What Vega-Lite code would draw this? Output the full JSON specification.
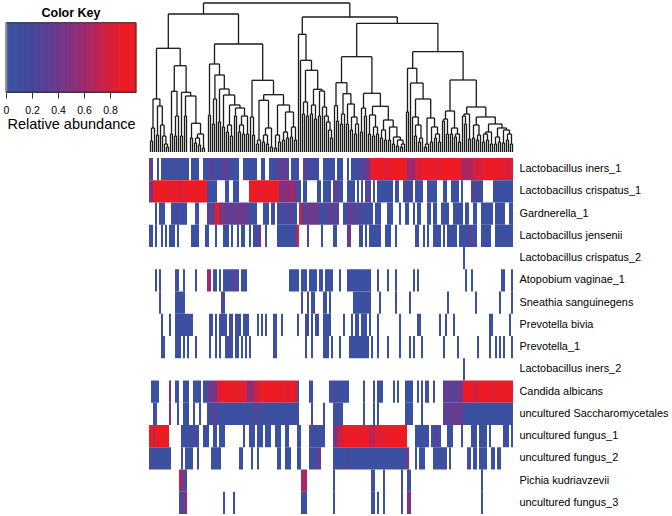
{"$schema":"https://vega.github.io/schema/vega-lite/v6.json","background":"white","padding":{"left":3,"top":2,"right":0,"bottom":0},"bounds":"flush","spacing":13,"config":{"font":"Liberation Sans","view":{"stroke":null},"concat":{"spacing":13}},
"datasets":{
"taxa":[{"r":0,"taxon":"Lactobacillus iners_1"},{"r":1,"taxon":"Lactobacillus crispatus_1"},{"r":2,"taxon":"Gardnerella_1"},{"r":3,"taxon":"Lactobacillus jensenii"},{"r":4,"taxon":"Lactobacillus crispatus_2"},{"r":5,"taxon":"Atopobium vaginae_1"},{"r":6,"taxon":"Sneathia sanguinegens"},{"r":7,"taxon":"Prevotella bivia"},{"r":8,"taxon":"Prevotella_1"},{"r":9,"taxon":"Lactobacillus iners_2"},{"r":10,"taxon":"Candida albicans"},{"r":11,"taxon":"uncultured Saccharomycetales"},{"r":12,"taxon":"uncultured fungus_1"},{"r":13,"taxon":"uncultured fungus_2"},{"r":14,"taxon":"Pichia kudriavzevii"},{"r":15,"taxon":"uncultured fungus_3"}],
"key":[{"a":0.01,"b":0.025,"v":0.02},{"a":0.025,"b":0.05,"v":0.04},{"a":0.05,"b":0.075,"v":0.06},{"a":0.075,"b":0.1,"v":0.09},{"a":0.1,"b":0.125,"v":0.11},{"a":0.125,"b":0.15,"v":0.14},{"a":0.15,"b":0.175,"v":0.16},{"a":0.175,"b":0.2,"v":0.19},{"a":0.2,"b":0.225,"v":0.21},{"a":0.225,"b":0.25,"v":0.24},{"a":0.25,"b":0.275,"v":0.26},{"a":0.275,"b":0.3,"v":0.29},{"a":0.3,"b":0.325,"v":0.31},{"a":0.325,"b":0.35,"v":0.34},{"a":0.35,"b":0.375,"v":0.36},{"a":0.375,"b":0.4,"v":0.39},{"a":0.4,"b":0.425,"v":0.41},{"a":0.425,"b":0.45,"v":0.44},{"a":0.45,"b":0.475,"v":0.46},{"a":0.475,"b":0.5,"v":0.49},{"a":0.5,"b":0.525,"v":0.51},{"a":0.525,"b":0.55,"v":0.54},{"a":0.55,"b":0.575,"v":0.56},{"a":0.575,"b":0.6,"v":0.59},{"a":0.6,"b":0.625,"v":0.61},{"a":0.625,"b":0.65,"v":0.64},{"a":0.65,"b":0.675,"v":0.66},{"a":0.675,"b":0.7,"v":0.69},{"a":0.7,"b":0.725,"v":0.71},{"a":0.725,"b":0.75,"v":0.74},{"a":0.75,"b":0.775,"v":0.76},{"a":0.775,"b":0.8,"v":0.79},{"a":0.8,"b":0.825,"v":0.81},{"a":0.825,"b":0.85,"v":0.84},{"a":0.85,"b":0.875,"v":0.86},{"a":0.875,"b":0.9,"v":0.89},{"a":0.9,"b":0.925,"v":0.91},{"a":0.925,"b":0.95,"v":0.94},{"a":0.95,"b":0.975,"v":0.96},{"a":0.975,"b":1,"v":0.99}],
"tree":[
{"l":0.5,"r":1.5,"h":11,"a":0,"b":0},{"l":1,"r":2.5,"h":24,"a":11,"b":0},{"l":3.5,"r":4.5,"h":17,"a":0,"b":0},{"l":8.5,"r":9.5,"h":5,"a":0,"b":0},{"l":7.5,"r":9,"h":8,"a":0,"b":5},{"l":6.5,"r":8.2,"h":16,"a":0,"b":8},{"l":5.5,"r":7.3,"h":27,"a":0,"b":16},{"l":4,"r":6.4,"h":46,"a":17,"b":27},{"l":1.75,"r":5.2,"h":53,"a":24,"b":46},
{"l":10.5,"r":11.5,"h":18,"a":0,"b":0},{"l":12.5,"r":13.5,"h":16,"a":0,"b":0},{"l":13,"r":14.5,"h":36,"a":16,"b":0},{"l":11,"r":13.75,"h":60.7,"a":18,"b":36},{"l":15.5,"r":16.5,"h":16,"a":0,"b":0},{"l":17.5,"r":18.5,"h":36,"a":0,"b":0},{"l":20.5,"r":21.5,"h":14,"a":0,"b":0},{"l":22.5,"r":23.5,"h":9,"a":0,"b":0},{"l":24.5,"r":25.5,"h":7,"a":0,"b":0},{"l":23,"r":25,"h":14,"a":9,"b":7},{"l":26.5,"r":27.5,"h":4,"a":0,"b":0},{"l":24,"r":27,"h":18,"a":14,"b":4},{"l":21,"r":25.5,"h":28.7,"a":14,"b":18},{"l":18,"r":23.2,"h":56,"a":36,"b":28.7},{"l":16,"r":20.6,"h":59.7,"a":16,"b":56},{"l":12.4,"r":18.3,"h":86.3,"a":60.7,"b":59.7},{"l":3.5,"r":15.35,"h":103.7,"a":53,"b":86.3},
{"l":29.5,"r":30.5,"h":36.7,"a":0,"b":0},{"l":31.5,"r":32.5,"h":28,"a":0,"b":0},{"l":32,"r":33.5,"h":53,"a":28,"b":0},{"l":34.5,"r":35.5,"h":30,"a":0,"b":0},{"l":36.5,"r":37.5,"h":25,"a":0,"b":0},{"l":38.5,"r":39.5,"h":20,"a":0,"b":0},{"l":40.5,"r":41.5,"h":16,"a":0,"b":0},{"l":39,"r":41,"h":27,"a":20,"b":16},{"l":42.5,"r":43.5,"h":36,"a":0,"b":0},{"l":44.5,"r":45.5,"h":20,"a":0,"b":0},{"l":46.5,"r":47.5,"h":18,"a":0,"b":0},{"l":48.5,"r":49.5,"h":18,"a":0,"b":0},{"l":45,"r":47,"h":27,"a":20,"b":18},{"l":46,"r":49,"h":36,"a":27,"b":18},{"l":43,"r":47.5,"h":44,"a":36,"b":36},{"l":40,"r":45.25,"h":47,"a":27,"b":44},{"l":37,"r":42.6,"h":57,"a":25,"b":47},{"l":35,"r":39.8,"h":63,"a":30,"b":57},{"l":32.7,"r":37.4,"h":77,"a":53,"b":63},{"l":30,"r":35,"h":88,"a":36.7,"b":77},
{"l":51.5,"r":52.5,"h":17,"a":0,"b":0},{"l":50.5,"r":52,"h":35,"a":0,"b":17},{"l":53.5,"r":54.5,"h":8,"a":0,"b":0},{"l":54,"r":55.5,"h":12,"a":8,"b":0},{"l":56.5,"r":57.5,"h":10,"a":0,"b":0},{"l":58.5,"r":59.5,"h":8,"a":0,"b":0},{"l":57,"r":59,"h":17,"a":10,"b":8},{"l":60.5,"r":61.5,"h":5,"a":0,"b":0},{"l":58,"r":61,"h":24,"a":17,"b":5},{"l":54.75,"r":59.5,"h":51.7,"a":12,"b":24},{"l":62.5,"r":63.5,"h":4,"a":0,"b":0},{"l":64.5,"r":65.5,"h":10,"a":0,"b":0},{"l":63,"r":65,"h":17,"a":4,"b":10},{"l":66.5,"r":67.5,"h":12,"a":0,"b":0},{"l":68.5,"r":69.5,"h":14,"a":0,"b":0},{"l":67,"r":69,"h":20,"a":12,"b":14},{"l":70.5,"r":71.5,"h":15,"a":0,"b":0},{"l":72.5,"r":73.5,"h":12,"a":0,"b":0},{"l":71,"r":73,"h":25,"a":15,"b":12},{"l":68,"r":72,"h":40,"a":20,"b":25},{"l":64,"r":70,"h":47,"a":17,"b":40},{"l":57.1,"r":67,"h":57.3,"a":51.7,"b":47},{"l":51.25,"r":62,"h":71.7,"a":35,"b":57.3},{"l":32.5,"r":56.6,"h":108,"a":88,"b":71.7},{"l":9.4,"r":44.5,"h":138,"a":103.7,"b":108},
{"l":76.5,"r":77.5,"h":38,"a":0,"b":0},{"l":78.5,"r":79.5,"h":36,"a":0,"b":0},{"l":77,"r":79,"h":50,"a":38,"b":36},{"l":80.5,"r":81.5,"h":38,"a":0,"b":0},{"l":82.5,"r":83.5,"h":33,"a":0,"b":0},{"l":81,"r":83,"h":47,"a":38,"b":33},{"l":84.5,"r":85.5,"h":36,"a":0,"b":0},{"l":90.5,"r":91.5,"h":14,"a":0,"b":0},{"l":89.5,"r":91,"h":22,"a":0,"b":14},{"l":88.5,"r":90.25,"h":30,"a":0,"b":22},{"l":87.5,"r":89.4,"h":36,"a":0,"b":30},{"l":86.5,"r":88.5,"h":45,"a":0,"b":36},{"l":85,"r":87.5,"h":61,"a":36,"b":45},{"l":82,"r":86.25,"h":62.7,"a":47,"b":61},{"l":78,"r":84.1,"h":81.7,"a":50,"b":62.7},{"l":75.5,"r":81,"h":91.7,"a":0,"b":81.7},{"l":74.5,"r":78.25,"h":117.7,"a":0,"b":91.7},
{"l":93.5,"r":94.5,"h":31,"a":0,"b":0},{"l":92.5,"r":94,"h":46.3,"a":0,"b":31},{"l":95.5,"r":96.5,"h":28,"a":0,"b":0},{"l":96,"r":97.5,"h":38,"a":28,"b":0},{"l":98.5,"r":99.5,"h":28,"a":0,"b":0},{"l":100.5,"r":101.5,"h":22,"a":0,"b":0},{"l":102.5,"r":103.5,"h":18,"a":0,"b":0},{"l":103,"r":104.5,"h":28,"a":18,"b":0},{"l":101,"r":103.75,"h":35,"a":22,"b":28},{"l":99,"r":102.4,"h":48,"a":28,"b":35},{"l":96.75,"r":100.7,"h":58.3,"a":38,"b":48},{"l":93.25,"r":98.7,"h":69.3,"a":46.3,"b":58.3},
{"l":105.5,"r":106.5,"h":20,"a":0,"b":0},{"l":107.5,"r":108.5,"h":36,"a":0,"b":0},{"l":106,"r":108,"h":44,"a":20,"b":36},{"l":109.5,"r":110.5,"h":18,"a":0,"b":0},{"l":111.5,"r":112.5,"h":16,"a":0,"b":0},{"l":113.5,"r":114.5,"h":18,"a":0,"b":0},{"l":112,"r":114,"h":25,"a":16,"b":18},{"l":110,"r":113,"h":37,"a":18,"b":25},{"l":115.5,"r":116.5,"h":14,"a":0,"b":0},{"l":117.5,"r":118.5,"h":12,"a":0,"b":0},{"l":116,"r":118,"h":22,"a":14,"b":12},{"l":119.5,"r":120.5,"h":12,"a":0,"b":0},{"l":121.5,"r":122.5,"h":8,"a":0,"b":0},{"l":123.5,"r":124.5,"h":6,"a":0,"b":0},{"l":125.5,"r":126.5,"h":5,"a":0,"b":0},{"l":126,"r":127.5,"h":8,"a":5,"b":0},{"l":124,"r":126.75,"h":12,"a":6,"b":8},{"l":122,"r":125.4,"h":15,"a":8,"b":12},{"l":120,"r":123.7,"h":25,"a":12,"b":15},{"l":117,"r":121.85,"h":32,"a":22,"b":25},{"l":111.5,"r":119.4,"h":45.7,"a":37,"b":32},{"l":107,"r":115.45,"h":58.7,"a":44,"b":45.7},{"l":96,"r":111.2,"h":95.3,"a":69.3,"b":58.7},
{"l":128.5,"r":129.5,"h":40,"a":0,"b":0},{"l":132.5,"r":133.5,"h":16,"a":0,"b":0},{"l":134.5,"r":135.5,"h":10,"a":0,"b":0},{"l":135,"r":136.5,"h":14,"a":10,"b":0},{"l":133,"r":135.75,"h":27,"a":16,"b":14},{"l":131.5,"r":134.4,"h":35,"a":0,"b":27},{"l":137.5,"r":138.5,"h":5,"a":0,"b":0},{"l":138,"r":139.5,"h":8,"a":5,"b":0},{"l":140.5,"r":141.5,"h":10,"a":0,"b":0},{"l":142.5,"r":143.5,"h":14,"a":0,"b":0},{"l":144.5,"r":145.5,"h":10,"a":0,"b":0},{"l":143,"r":145,"h":18,"a":14,"b":10},{"l":141,"r":144,"h":25,"a":10,"b":18},{"l":138.75,"r":142.5,"h":34,"a":8,"b":25},{"l":133,"r":140.6,"h":53,"a":35,"b":34},{"l":130.5,"r":136.8,"h":69,"a":0,"b":53},{"l":129,"r":133.65,"h":83.7,"a":40,"b":69},
{"l":146.5,"r":147.5,"h":31,"a":0,"b":0},{"l":148.5,"r":149.5,"h":18,"a":0,"b":0},{"l":147,"r":149,"h":33,"a":31,"b":18},{"l":150.5,"r":151.5,"h":18,"a":0,"b":0},{"l":152.5,"r":153.5,"h":15,"a":0,"b":0},{"l":154.5,"r":155.5,"h":10,"a":0,"b":0},{"l":153,"r":155,"h":18,"a":15,"b":10},{"l":151,"r":154,"h":24,"a":18,"b":18},{"l":148,"r":152.5,"h":41,"a":33,"b":24},{"l":157.5,"r":158.5,"h":28,"a":0,"b":0},{"l":156.5,"r":158,"h":36,"a":0,"b":28},{"l":159.5,"r":160.5,"h":13,"a":0,"b":0},{"l":157.25,"r":160,"h":38,"a":36,"b":13},{"l":161.5,"r":162.5,"h":14,"a":0,"b":0},{"l":163.5,"r":164.5,"h":12,"a":0,"b":0},{"l":164,"r":165.5,"h":17,"a":12,"b":0},{"l":162,"r":164.75,"h":27,"a":14,"b":17},{"l":166.5,"r":167.5,"h":10,"a":0,"b":0},{"l":168.5,"r":169.5,"h":12,"a":0,"b":0},{"l":167,"r":169,"h":18,"a":10,"b":12},{"l":170.5,"r":171.5,"h":8,"a":0,"b":0},{"l":168,"r":171,"h":20,"a":18,"b":8},{"l":172.5,"r":173.5,"h":8,"a":0,"b":0},{"l":174.5,"r":175.5,"h":10,"a":0,"b":0},{"l":173,"r":175,"h":15,"a":8,"b":10},{"l":176.5,"r":177.5,"h":9,"a":0,"b":0},{"l":178.5,"r":179.5,"h":12,"a":0,"b":0},{"l":180.5,"r":181.5,"h":8,"a":0,"b":0},{"l":179,"r":181,"h":18,"a":12,"b":8},{"l":177,"r":180,"h":22,"a":9,"b":18},{"l":174,"r":178.5,"h":24,"a":15,"b":22},{"l":169.5,"r":176.25,"h":28,"a":20,"b":24},{"l":163.4,"r":172.9,"h":35,"a":27,"b":28},{"l":158.6,"r":168.15,"h":45,"a":38,"b":35},{"l":150.25,"r":163.4,"h":72,"a":41,"b":45},{"l":131.6,"r":156.8,"h":100.3,"a":83.7,"b":72},{"l":103.6,"r":144.2,"h":128.7,"a":95.3,"b":100.3},{"l":76.4,"r":123.9,"h":135,"a":117.7,"b":128.7},{"l":27,"r":100.15,"h":149,"a":138,"b":135}],
"heat":[
{"r":0,"a":0,"b":2,"v":0.35},{"r":0,"a":4,"b":5,"v":0.05},{"r":0,"a":6,"b":20,"v":0.06},{"r":0,"a":21,"b":25,"v":0.05},{"r":0,"a":27,"b":30,"v":0.05},{"r":0,"a":30,"b":32,"v":0.35},{"r":0,"a":32,"b":36,"v":0.08},{"r":0,"a":36,"b":40,"v":0.3},{"r":0,"a":40,"b":45,"v":0.05},{"r":0,"a":47,"b":54,"v":0.05},{"r":0,"a":56,"b":58,"v":0.05},{"r":0,"a":60,"b":64,"v":0.05},{"r":0,"a":64,"b":69,"v":0.35},{"r":0,"a":69,"b":70,"v":0.05},{"r":0,"a":71,"b":75,"v":0.05},{"r":0,"a":77,"b":79,"v":0.3},{"r":0,"a":79,"b":85,"v":0.15},{"r":0,"a":87,"b":93,"v":0.05},{"r":0,"a":94,"b":97,"v":0.05},{"r":0,"a":99,"b":100,"v":0.05},{"r":0,"a":101,"b":105,"v":0.05},{"r":0,"a":105,"b":109,"v":0.3},{"r":0,"a":109,"b":110,"v":0.45},{"r":0,"a":110,"b":111,"v":0.65},{"r":0,"a":111,"b":112,"v":0.85},{"r":0,"a":112,"b":117,"v":0.97},{"r":0,"a":117,"b":120,"v":0.85},{"r":0,"a":120,"b":129,"v":0.97},{"r":0,"a":129,"b":133,"v":0.6},{"r":0,"a":133,"b":136,"v":0.8},{"r":0,"a":136,"b":142,"v":0.97},{"r":0,"a":142,"b":146,"v":0.85},{"r":0,"a":146,"b":156,"v":0.93},{"r":0,"a":156,"b":162,"v":0.65},{"r":0,"a":162,"b":167,"v":0.8},{"r":0,"a":167,"b":174,"v":0.97},{"r":0,"a":174,"b":178,"v":0.87},{"r":0,"a":178,"b":182,"v":0.82},
{"r":1,"a":0,"b":2,"v":0.5},{"r":1,"a":2,"b":10,"v":0.97},{"r":1,"a":10,"b":12,"v":0.85},{"r":1,"a":12,"b":15,"v":0.95},{"r":1,"a":15,"b":17,"v":0.8},{"r":1,"a":17,"b":29,"v":0.97},{"r":1,"a":29,"b":34,"v":0.05},{"r":1,"a":38,"b":40,"v":0.05},{"r":1,"a":42,"b":45,"v":0.05},{"r":1,"a":50,"b":56,"v":0.97},{"r":1,"a":56,"b":57,"v":0.8},{"r":1,"a":57,"b":65,"v":0.95},{"r":1,"a":65,"b":67,"v":0.45},{"r":1,"a":67,"b":70,"v":0.55},{"r":1,"a":70,"b":72,"v":0.6},{"r":1,"a":72,"b":74,"v":0.5},{"r":1,"a":74,"b":76,"v":0.05},{"r":1,"a":77,"b":79,"v":0.05},{"r":1,"a":84,"b":86,"v":0.05},{"r":1,"a":87,"b":91,"v":0.05},{"r":1,"a":92,"b":95,"v":0.3},{"r":1,"a":95,"b":97,"v":0.05},{"r":1,"a":99,"b":102,"v":0.05},{"r":1,"a":102,"b":103,"v":0.05},{"r":1,"a":104,"b":105,"v":0.05},{"r":1,"a":106,"b":107,"v":0.05},{"r":1,"a":108,"b":111,"v":0.25},{"r":1,"a":112,"b":113,"v":0.05},{"r":1,"a":114,"b":115,"v":0.05},{"r":1,"a":115,"b":122,"v":0.05},{"r":1,"a":123,"b":125,"v":0.05},{"r":1,"a":127,"b":132,"v":0.2},{"r":1,"a":133,"b":137,"v":0.05},{"r":1,"a":139,"b":144,"v":0.05},{"r":1,"a":147,"b":149,"v":0.05},{"r":1,"a":151,"b":155,"v":0.05},{"r":1,"a":156,"b":157,"v":0.05},{"r":1,"a":161,"b":167,"v":0.2},{"r":1,"a":172,"b":182,"v":0.05},
{"r":2,"a":3,"b":4,"v":0.05},{"r":2,"a":5,"b":8,"v":0.05},{"r":2,"a":11,"b":13,"v":0.05},{"r":2,"a":13,"b":15,"v":0.2},{"r":2,"a":15,"b":19,"v":0.05},{"r":2,"a":23,"b":25,"v":0.05},{"r":2,"a":29,"b":33,"v":0.3},{"r":2,"a":33,"b":35,"v":0.9},{"r":2,"a":35,"b":38,"v":0.5},{"r":2,"a":38,"b":43,"v":0.35},{"r":2,"a":43,"b":50,"v":0.4},{"r":2,"a":50,"b":54,"v":0.05},{"r":2,"a":57,"b":60,"v":0.05},{"r":2,"a":61,"b":63,"v":0.05},{"r":2,"a":64,"b":69,"v":0.15},{"r":2,"a":69,"b":72,"v":0.25},{"r":2,"a":72,"b":74,"v":0.05},{"r":2,"a":75,"b":76,"v":0.97},{"r":2,"a":76,"b":80,"v":0.35},{"r":2,"a":80,"b":85,"v":0.4},{"r":2,"a":85,"b":88,"v":0.05},{"r":2,"a":88,"b":95,"v":0.3},{"r":2,"a":97,"b":99,"v":0.05},{"r":2,"a":99,"b":102,"v":0.35},{"r":2,"a":102,"b":107,"v":0.25},{"r":2,"a":107,"b":112,"v":0.05},{"r":2,"a":113,"b":116,"v":0.05},{"r":2,"a":119,"b":122,"v":0.05},{"r":2,"a":125,"b":126,"v":0.05},{"r":2,"a":128,"b":130,"v":0.05},{"r":2,"a":132,"b":133,"v":0.05},{"r":2,"a":134,"b":136,"v":0.05},{"r":2,"a":139,"b":141,"v":0.05},{"r":2,"a":142,"b":144,"v":0.05},{"r":2,"a":146,"b":150,"v":0.05},{"r":2,"a":152,"b":157,"v":0.05},{"r":2,"a":158,"b":160,"v":0.05},{"r":2,"a":162,"b":164,"v":0.05},{"r":2,"a":166,"b":172,"v":0.05},{"r":2,"a":173,"b":178,"v":0.05},{"r":2,"a":180,"b":182,"v":0.05},
{"r":3,"a":0,"b":2,"v":0.05},{"r":3,"a":3,"b":4,"v":0.05},{"r":3,"a":6,"b":7,"v":0.05},{"r":3,"a":8,"b":9,"v":0.05},{"r":3,"a":10,"b":13,"v":0.05},{"r":3,"a":14,"b":15,"v":0.05},{"r":3,"a":21,"b":25,"v":0.05},{"r":3,"a":28,"b":30,"v":0.05},{"r":3,"a":33,"b":34,"v":0.05},{"r":3,"a":37,"b":40,"v":0.05},{"r":3,"a":41,"b":42,"v":0.05},{"r":3,"a":44,"b":45,"v":0.05},{"r":3,"a":46,"b":48,"v":0.05},{"r":3,"a":50,"b":51,"v":0.05},{"r":3,"a":52,"b":55,"v":0.05},{"r":3,"a":55,"b":56,"v":0.5},{"r":3,"a":58,"b":59,"v":0.05},{"r":3,"a":64,"b":74,"v":0.05},{"r":3,"a":74,"b":75,"v":0.97},{"r":3,"a":79,"b":80,"v":0.3},{"r":3,"a":86,"b":87,"v":0.05},{"r":3,"a":92,"b":94,"v":0.05},{"r":3,"a":99,"b":101,"v":0.4},{"r":3,"a":105,"b":107,"v":0.05},{"r":3,"a":108,"b":109,"v":0.05},{"r":3,"a":110,"b":116,"v":0.05},{"r":3,"a":118,"b":121,"v":0.05},{"r":3,"a":123,"b":124,"v":0.05},{"r":3,"a":133,"b":135,"v":0.05},{"r":3,"a":137,"b":138,"v":0.05},{"r":3,"a":139,"b":140,"v":0.05},{"r":3,"a":142,"b":146,"v":0.05},{"r":3,"a":147,"b":148,"v":0.05},{"r":3,"a":149,"b":154,"v":0.05},{"r":3,"a":155,"b":159,"v":0.05},{"r":3,"a":159,"b":162,"v":0.25},{"r":3,"a":162,"b":164,"v":0.05},{"r":3,"a":166,"b":171,"v":0.05},{"r":3,"a":173,"b":182,"v":0.05},
{"r":4,"a":157,"b":158,"v":0.05},
{"r":5,"a":3,"b":4,"v":0.05},{"r":5,"a":5,"b":6,"v":0.05},{"r":5,"a":13,"b":15,"v":0.05},{"r":5,"a":17,"b":18,"v":0.05},{"r":5,"a":23,"b":24,"v":0.05},{"r":5,"a":29,"b":31,"v":0.6},{"r":5,"a":32,"b":34,"v":0.05},{"r":5,"a":35,"b":36,"v":0.05},{"r":5,"a":37,"b":40,"v":0.05},{"r":5,"a":40,"b":42,"v":0.05},{"r":5,"a":42,"b":44,"v":0.3},{"r":5,"a":44,"b":45,"v":0.05},{"r":5,"a":46,"b":49,"v":0.05},{"r":5,"a":70,"b":75,"v":0.05},{"r":5,"a":76,"b":79,"v":0.05},{"r":5,"a":80,"b":84,"v":0.05},{"r":5,"a":85,"b":87,"v":0.05},{"r":5,"a":88,"b":92,"v":0.05},{"r":5,"a":95,"b":96,"v":0.05},{"r":5,"a":99,"b":111,"v":0.05},{"r":5,"a":114,"b":115,"v":0.05},{"r":5,"a":119,"b":120,"v":0.05},{"r":5,"a":123,"b":124,"v":0.05},{"r":5,"a":132,"b":133,"v":0.05},{"r":5,"a":134,"b":135,"v":0.05},{"r":5,"a":158,"b":159,"v":0.05},{"r":5,"a":161,"b":162,"v":0.05},{"r":5,"a":176,"b":178,"v":0.05},{"r":5,"a":181,"b":182,"v":0.05},
{"r":6,"a":5,"b":6,"v":0.05},{"r":6,"a":13,"b":18,"v":0.05},{"r":6,"a":36,"b":37,"v":0.3},{"r":6,"a":37,"b":38,"v":0.05},{"r":6,"a":76,"b":77,"v":0.05},{"r":6,"a":79,"b":80,"v":0.2},{"r":6,"a":81,"b":83,"v":0.05},{"r":6,"a":87,"b":89,"v":0.05},{"r":6,"a":90,"b":91,"v":0.05},{"r":6,"a":102,"b":111,"v":0.05},{"r":6,"a":115,"b":116,"v":0.05},{"r":6,"a":123,"b":124,"v":0.05},{"r":6,"a":130,"b":131,"v":0.05},{"r":6,"a":149,"b":150,"v":0.05},{"r":6,"a":163,"b":164,"v":0.05},{"r":6,"a":175,"b":176,"v":0.05},{"r":6,"a":181,"b":182,"v":0.05},
{"r":7,"a":6,"b":7,"v":0.05},{"r":7,"a":10,"b":11,"v":0.05},{"r":7,"a":13,"b":17,"v":0.05},{"r":7,"a":17,"b":19,"v":0.1},{"r":7,"a":19,"b":22,"v":0.05},{"r":7,"a":30,"b":32,"v":0.05},{"r":7,"a":33,"b":34,"v":0.05},{"r":7,"a":35,"b":39,"v":0.05},{"r":7,"a":40,"b":42,"v":0.2},{"r":7,"a":43,"b":46,"v":0.05},{"r":7,"a":47,"b":50,"v":0.05},{"r":7,"a":54,"b":55,"v":0.05},{"r":7,"a":56,"b":57,"v":0.05},{"r":7,"a":58,"b":59,"v":0.05},{"r":7,"a":62,"b":64,"v":0.05},{"r":7,"a":66,"b":67,"v":0.05},{"r":7,"a":74,"b":75,"v":0.05},{"r":7,"a":78,"b":80,"v":0.2},{"r":7,"a":81,"b":82,"v":0.05},{"r":7,"a":83,"b":85,"v":0.05},{"r":7,"a":87,"b":91,"v":0.05},{"r":7,"a":97,"b":98,"v":0.05},{"r":7,"a":101,"b":102,"v":0.05},{"r":7,"a":103,"b":105,"v":0.05},{"r":7,"a":106,"b":109,"v":0.05},{"r":7,"a":110,"b":111,"v":0.05},{"r":7,"a":114,"b":115,"v":0.05},{"r":7,"a":125,"b":126,"v":0.05},{"r":7,"a":134,"b":136,"v":0.05},{"r":7,"a":145,"b":146,"v":0.05},{"r":7,"a":148,"b":149,"v":0.05},{"r":7,"a":152,"b":153,"v":0.05},{"r":7,"a":170,"b":172,"v":0.05},{"r":7,"a":180,"b":181,"v":0.05},
{"r":8,"a":6,"b":8,"v":0.05},{"r":8,"a":13,"b":16,"v":0.05},{"r":8,"a":17,"b":18,"v":0.05},{"r":8,"a":19,"b":20,"v":0.05},{"r":8,"a":23,"b":24,"v":0.05},{"r":8,"a":30,"b":31,"v":0.05},{"r":8,"a":33,"b":34,"v":0.05},{"r":8,"a":35,"b":36,"v":0.05},{"r":8,"a":38,"b":40,"v":0.05},{"r":8,"a":40,"b":41,"v":0.25},{"r":8,"a":41,"b":42,"v":0.05},{"r":8,"a":43,"b":45,"v":0.05},{"r":8,"a":46,"b":47,"v":0.05},{"r":8,"a":48,"b":49,"v":0.05},{"r":8,"a":50,"b":51,"v":0.05},{"r":8,"a":62,"b":64,"v":0.05},{"r":8,"a":78,"b":79,"v":0.15},{"r":8,"a":81,"b":82,"v":0.05},{"r":8,"a":87,"b":90,"v":0.05},{"r":8,"a":91,"b":92,"v":0.05},{"r":8,"a":95,"b":96,"v":0.05},{"r":8,"a":100,"b":110,"v":0.05},{"r":8,"a":111,"b":112,"v":0.05},{"r":8,"a":114,"b":115,"v":0.05},{"r":8,"a":119,"b":120,"v":0.05},{"r":8,"a":125,"b":126,"v":0.05},{"r":8,"a":130,"b":131,"v":0.05},{"r":8,"a":132,"b":133,"v":0.05},{"r":8,"a":136,"b":137,"v":0.05},{"r":8,"a":147,"b":148,"v":0.05},{"r":8,"a":154,"b":155,"v":0.05},{"r":8,"a":164,"b":165,"v":0.05},{"r":8,"a":170,"b":171,"v":0.05},{"r":8,"a":173,"b":174,"v":0.05},{"r":8,"a":175,"b":176,"v":0.05},{"r":8,"a":177,"b":178,"v":0.05},{"r":8,"a":181,"b":182,"v":0.05},
{"r":9,"a":157,"b":158,"v":0.1},
{"r":10,"a":1,"b":5,"v":0.05},{"r":10,"a":10,"b":11,"v":0.5},{"r":10,"a":13,"b":15,"v":0.05},{"r":10,"a":17,"b":20,"v":0.05},{"r":10,"a":22,"b":24,"v":0.05},{"r":10,"a":24,"b":26,"v":0.05},{"r":10,"a":27,"b":29,"v":0.05},{"r":10,"a":29,"b":32,"v":0.4},{"r":10,"a":32,"b":34,"v":0.45},{"r":10,"a":34,"b":36,"v":0.8},{"r":10,"a":36,"b":45,"v":0.97},{"r":10,"a":45,"b":49,"v":0.85},{"r":10,"a":49,"b":52,"v":0.5},{"r":10,"a":52,"b":55,"v":0.75},{"r":10,"a":55,"b":68,"v":0.97},{"r":10,"a":68,"b":70,"v":0.82},{"r":10,"a":70,"b":74,"v":0.97},{"r":10,"a":74,"b":75,"v":0.05},{"r":10,"a":80,"b":82,"v":0.05},{"r":10,"a":90,"b":91,"v":0.05},{"r":10,"a":91,"b":92,"v":0.05},{"r":10,"a":92,"b":94,"v":0.25},{"r":10,"a":94,"b":100,"v":0.05},{"r":10,"a":107,"b":108,"v":0.05},{"r":10,"a":112,"b":113,"v":0.05},{"r":10,"a":114,"b":116,"v":0.05},{"r":10,"a":116,"b":117,"v":0.05},{"r":10,"a":122,"b":123,"v":0.05},{"r":10,"a":124,"b":125,"v":0.05},{"r":10,"a":128,"b":132,"v":0.05},{"r":10,"a":134,"b":135,"v":0.05},{"r":10,"a":136,"b":137,"v":0.05},{"r":10,"a":138,"b":140,"v":0.05},{"r":10,"a":142,"b":143,"v":0.05},{"r":10,"a":147,"b":151,"v":0.35},{"r":10,"a":151,"b":154,"v":0.3},{"r":10,"a":154,"b":157,"v":0.42},{"r":10,"a":157,"b":160,"v":0.97},{"r":10,"a":160,"b":162,"v":0.9},{"r":10,"a":162,"b":165,"v":0.8},{"r":10,"a":165,"b":170,"v":0.95},{"r":10,"a":170,"b":173,"v":0.85},{"r":10,"a":173,"b":178,"v":0.95},{"r":10,"a":178,"b":182,"v":0.88},
{"r":11,"a":2,"b":4,"v":0.05},{"r":11,"a":10,"b":11,"v":0.5},{"r":11,"a":14,"b":15,"v":0.05},{"r":11,"a":17,"b":20,"v":0.05},{"r":11,"a":22,"b":23,"v":0.05},{"r":11,"a":25,"b":26,"v":0.05},{"r":11,"a":29,"b":31,"v":0.05},{"r":11,"a":31,"b":34,"v":0.3},{"r":11,"a":34,"b":49,"v":0.05},{"r":11,"a":49,"b":52,"v":0.1},{"r":11,"a":52,"b":55,"v":0.25},{"r":11,"a":55,"b":75,"v":0.05},{"r":11,"a":81,"b":82,"v":0.05},{"r":11,"a":87,"b":88,"v":0.05},{"r":11,"a":92,"b":97,"v":0.05},{"r":11,"a":107,"b":108,"v":0.05},{"r":11,"a":112,"b":113,"v":0.05},{"r":11,"a":114,"b":115,"v":0.05},{"r":11,"a":128,"b":132,"v":0.05},{"r":11,"a":136,"b":137,"v":0.05},{"r":11,"a":147,"b":150,"v":0.3},{"r":11,"a":150,"b":157,"v":0.38},{"r":11,"a":157,"b":182,"v":0.05},
{"r":12,"a":0,"b":2,"v":0.9},{"r":12,"a":2,"b":3,"v":0.7},{"r":12,"a":3,"b":4,"v":0.85},{"r":12,"a":4,"b":10,"v":0.97},{"r":12,"a":16,"b":20,"v":0.05},{"r":12,"a":20,"b":25,"v":0.15},{"r":12,"a":27,"b":30,"v":0.05},{"r":12,"a":32,"b":34,"v":0.05},{"r":12,"a":35,"b":38,"v":0.05},{"r":12,"a":47,"b":48,"v":0.05},{"r":12,"a":50,"b":53,"v":0.05},{"r":12,"a":54,"b":57,"v":0.05},{"r":12,"a":58,"b":61,"v":0.05},{"r":12,"a":63,"b":66,"v":0.05},{"r":12,"a":68,"b":70,"v":0.05},{"r":12,"a":74,"b":76,"v":0.05},{"r":12,"a":80,"b":88,"v":0.1},{"r":12,"a":92,"b":94,"v":0.4},{"r":12,"a":94,"b":97,"v":0.75},{"r":12,"a":97,"b":105,"v":0.95},{"r":12,"a":105,"b":107,"v":0.85},{"r":12,"a":107,"b":110,"v":0.97},{"r":12,"a":110,"b":113,"v":0.7},{"r":12,"a":113,"b":118,"v":0.85},{"r":12,"a":118,"b":129,"v":0.97},{"r":12,"a":133,"b":140,"v":0.05},{"r":12,"a":141,"b":143,"v":0.05},{"r":12,"a":143,"b":145,"v":0.3},{"r":12,"a":145,"b":146,"v":0.05},{"r":12,"a":149,"b":152,"v":0.05},{"r":12,"a":156,"b":157,"v":0.05},{"r":12,"a":161,"b":164,"v":0.05},{"r":12,"a":165,"b":169,"v":0.05},{"r":12,"a":170,"b":171,"v":0.05},{"r":12,"a":177,"b":180,"v":0.05},{"r":12,"a":181,"b":182,"v":0.05},
{"r":13,"a":0,"b":4,"v":0.08},{"r":13,"a":4,"b":11,"v":0.05},{"r":13,"a":16,"b":17,"v":0.05},{"r":13,"a":18,"b":22,"v":0.05},{"r":13,"a":24,"b":25,"v":0.05},{"r":13,"a":31,"b":36,"v":0.05},{"r":13,"a":45,"b":47,"v":0.05},{"r":13,"a":51,"b":52,"v":0.05},{"r":13,"a":54,"b":55,"v":0.05},{"r":13,"a":64,"b":66,"v":0.05},{"r":13,"a":68,"b":71,"v":0.05},{"r":13,"a":74,"b":76,"v":0.05},{"r":13,"a":80,"b":84,"v":0.05},{"r":13,"a":84,"b":86,"v":0.4},{"r":13,"a":92,"b":99,"v":0.05},{"r":13,"a":99,"b":101,"v":0.2},{"r":13,"a":101,"b":129,"v":0.05},{"r":13,"a":129,"b":130,"v":0.6},{"r":13,"a":133,"b":134,"v":0.05},{"r":13,"a":135,"b":138,"v":0.05},{"r":13,"a":142,"b":149,"v":0.05},{"r":13,"a":150,"b":151,"v":0.05},{"r":13,"a":159,"b":160,"v":0.05},{"r":13,"a":160,"b":161,"v":0.05},{"r":13,"a":162,"b":164,"v":0.05},{"r":13,"a":165,"b":169,"v":0.05},{"r":13,"a":171,"b":173,"v":0.05},{"r":13,"a":174,"b":176,"v":0.05},
{"r":14,"a":15,"b":17,"v":0.65},{"r":14,"a":17,"b":19,"v":0.1},{"r":14,"a":76,"b":79,"v":0.65},{"r":14,"a":92,"b":93,"v":0.05},{"r":14,"a":111,"b":113,"v":0.05},{"r":14,"a":117,"b":118,"v":0.05},{"r":14,"a":126,"b":127,"v":0.05},{"r":14,"a":129,"b":131,"v":0.05},{"r":14,"a":166,"b":167,"v":0.05},
{"r":15,"a":15,"b":17,"v":0.1},{"r":15,"a":17,"b":19,"v":0.5},{"r":15,"a":37,"b":38,"v":0.05},{"r":15,"a":42,"b":43,"v":0.05},{"r":15,"a":76,"b":79,"v":0.05},{"r":15,"a":92,"b":93,"v":0.05},{"r":15,"a":111,"b":113,"v":0.05},{"r":15,"a":114,"b":115,"v":0.05},{"r":15,"a":117,"b":118,"v":0.05},{"r":15,"a":126,"b":127,"v":0.05},{"r":15,"a":129,"b":131,"v":0.5},{"r":15,"a":166,"b":167,"v":0.05}
]},
"hconcat":[
{"width":130,"height":90,"title":{"text":"Color Key","fontSize":12.5,"fontWeight":"bold","font":"Liberation Sans","offset":-17,"anchor":"middle","color":"black"},
"layer":[
{"data":{"name":"key"},"mark":{"type":"rect","strokeWidth":0.8},"encoding":{"x":{"field":"a","type":"quantitative","scale":{"domain":[0,1]},"axis":{"values":[0,0.2,0.4,0.6,0.8],"tickCount":5,"format":".1~f","labelOverlap":false,"title":"Relative abundance","titleFontSize":14.5,"titleFontWeight":"normal","titleColor":"black","labelFontSize":10.5,"labelColor":"black","tickColor":"#333","domainColor":"#333","tickSize":6,"labelPadding":7,"titlePadding":2,"grid":false,"labelFlush":false}},"x2":{"field":"b"},"y":{"datum":0,"type":"quantitative","scale":{"domain":[0,1.3]},"axis":null},"y2":{"datum":1},"color":{"field":"v","type":"quantitative","legend":null,"scale":{"domain":[0,0.2,0.4,0.6,0.8,0.9,1],"range":["#3953a4","#46489c","#6b3a8e","#9b2a70","#d71f3c","#ed1c24","#ed1c24"],"interpolate":"rgb"}},"stroke":{"field":"v","type":"quantitative","legend":null,"scale":{"domain":[0,0.2,0.4,0.6,0.8,0.9,1],"range":["#3953a4","#46489c","#6b3a8e","#9b2a70","#d71f3c","#ed1c24","#ed1c24"],"interpolate":"rgb"}}}},
{"data":{"values":[{"a":0,"b":1}]},"mark":{"type":"rect","fill":null,"stroke":"#333","strokeWidth":1},"encoding":{"x":{"field":"a","type":"quantitative"},"x2":{"field":"b"},"y":{"datum":0,"type":"quantitative"},"y2":{"datum":1}}}
]},
{"vconcat":[
{"width":364,"height":150,"data":{"name":"tree"},"encoding":{"x":{"field":"l","type":"quantitative","scale":{"domain":[-0.25,181.75]},"axis":null}},"layer":[
{"mark":{"type":"rule","color":"#1a1a1a","strokeWidth":1.3},"encoding":{"x2":{"field":"r"},"y":{"field":"h","type":"quantitative","scale":{"domain":[0,150],"nice":false},"axis":null}}},
{"mark":{"type":"rule","color":"#1a1a1a","strokeWidth":1.3},"encoding":{"y":{"field":"a","type":"quantitative","scale":{"domain":[0,150],"nice":false},"axis":null},"y2":{"field":"h"}}},
{"mark":{"type":"rule","color":"#1a1a1a","strokeWidth":1.3},"encoding":{"x":{"field":"r","type":"quantitative","scale":{"domain":[-0.25,181.75]}},"y":{"field":"b","type":"quantitative","scale":{"domain":[0,150],"nice":false},"axis":null},"y2":{"field":"h"}}}
]},
{"width":364,"height":356,"data":{"name":"heat"},"transform":[{"lookup":"r","from":{"data":{"name":"taxa"},"key":"r","fields":["taxon"]}}],"mark":{"type":"rect"},"encoding":{"x":{"field":"a","type":"quantitative","scale":{"domain":[0,182]},"axis":null},"x2":{"field":"b"},"y":{"field":"taxon","type":"nominal","scale":{"domain":["Lactobacillus iners_1","Lactobacillus crispatus_1","Gardnerella_1","Lactobacillus jensenii","Lactobacillus crispatus_2","Atopobium vaginae_1","Sneathia sanguinegens","Prevotella bivia","Prevotella_1","Lactobacillus iners_2","Candida albicans","uncultured Saccharomycetales","uncultured fungus_1","uncultured fungus_2","Pichia kudriavzevii","uncultured fungus_3"],"paddingInner":0,"paddingOuter":0},"axis":{"orient":"right","title":null,"ticks":false,"domain":false,"labelFontSize":10.9,"labelColor":"black","labelPadding":6,"labelLimit":200}},"color":{"field":"v","type":"quantitative","legend":null,"scale":{"domain":[0,0.2,0.4,0.6,0.8,0.9,1],"range":["#3953a4","#46489c","#6b3a8e","#9b2a70","#d71f3c","#ed1c24","#ed1c24"],"interpolate":"rgb"}}}}
],"spacing":5}
]}
